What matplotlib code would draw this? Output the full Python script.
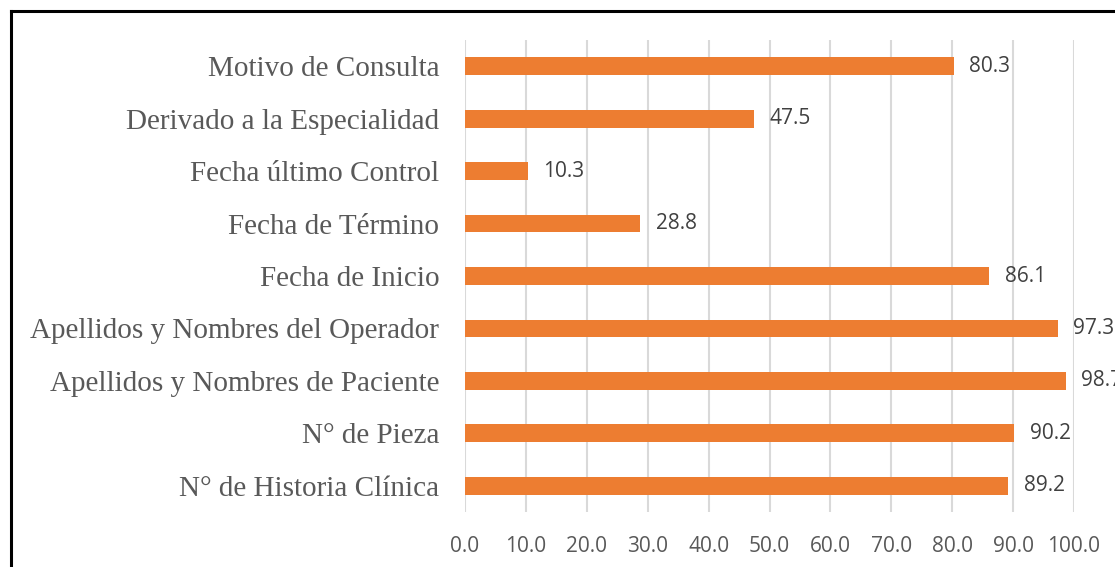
import matplotlib.pyplot as plt
from matplotlib.lines import Line2D

categories = [
    "N° de Historia Clínica",
    "N° de Pieza",
    "Apellidos y Nombres de Paciente",
    "Apellidos y Nombres del Operador",
    "Fecha de Inicio",
    "Fecha de Término",
    "Fecha último Control",
    "Derivado a la Especialidad",
    "Motivo de Consulta",
]
values = [89.2, 90.2, 98.7, 97.3, 86.1, 28.8, 10.3, 47.5, 80.3]
xticks = [0, 10, 20, 30, 40, 50, 60, 70, 80, 90, 100]

W, H = 1115, 567
fig = plt.figure(figsize=(W / 100, H / 100), dpi=100)
ax = fig.add_axes([465 / W, 1 - 512 / H, (1074 - 465) / W, (512 - 40) / H])

ax.barh(range(len(categories)), values, height=0.34, color="#ED7D31", zorder=3)
ax.set_xlim(0, 100)
ax.set_ylim(-0.5, len(categories) - 0.5)

ax.set_xticks(xticks)
ax.set_xticklabels([f"{t:.1f}" for t in xticks], fontfamily="Open Sans",
                   fontsize=15, color="#595959")
ax.set_yticks(range(len(categories)))
ax.set_yticklabels(categories, fontfamily="Liberation Serif", fontsize=21,
                   color="#595959")
ax.tick_params(axis="x", length=0, pad=17)
ax.tick_params(axis="y", length=0, pad=18.5)
ax.grid(axis="x", color="#d9d9d9", linewidth=1.5, zorder=0)
for s in ax.spines.values():
    s.set_visible(False)

for i, v in enumerate(values):
    ax.annotate(f"{v:.1f}", (v, i), xytext=(11, 0), textcoords="offset points",
                va="center", ha="left", fontfamily="Open Sans", fontsize=15,
                color="#404040", annotation_clip=False)

# outer border (cropped on the right and bottom)
fig.add_artist(Line2D([11 / W, 11 / W], [0, 1 - 11 / H], color="black",
                      linewidth=2.2, transform=fig.transFigure))
fig.add_artist(Line2D([11 / W, 1], [1 - 11 / H, 1 - 11 / H], color="black",
                      linewidth=2.2, transform=fig.transFigure))

fig.savefig("out.png", dpi=100)
